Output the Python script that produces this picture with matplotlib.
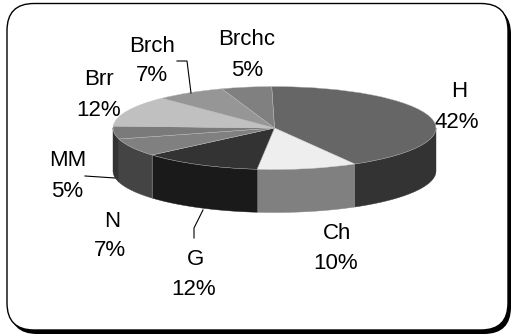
import numpy as np
import matplotlib
matplotlib.use('Agg')
import matplotlib.pyplot as plt
from matplotlib.patches import FancyBboxPatch, Polygon

labels = ['H', 'Ch', 'G', 'N', 'MM', 'Brr', 'Brch', 'Brchc']
values = [42, 10, 12, 7, 5, 12, 7, 5]
top_colors = ['#666666', '#eeeeee', '#333333', '#808080', '#7a7a7a', '#c0c0c0', '#969696', '#808080']
side_colors = ['#333333', '#808080', '#1a1a1a', '#444444', '#333333', '#c0c0c0', '#969696', '#808080']

W, H = 511, 335
plt.rcParams['font.family'] = ['Liberation Sans', 'DejaVu Sans']

fig = plt.figure(figsize=(W / 100, H / 100), dpi=100)

# pixel-coordinate layer for the frame
bg = fig.add_axes([0, 0, 1, 1], zorder=1)
bg.set_xlim(0, W)
bg.set_ylim(H, 0)
bg.axis('off')

bg.add_patch(FancyBboxPatch((10, 7), 501, 327, boxstyle='round,pad=0,rounding_size=27',
                            fc='black', ec='none'))
bg.add_patch(FancyBboxPatch((7, 3.5), 501, 326.5, boxstyle='round,pad=0,rounding_size=27',
                            fc='white', ec='black', lw=1.0))

# pie axes: the unit circle is squashed into an ellipse, so a wedge keeps its share
cx, cy, rx, ry, depth = 274.5, 128, 161.5, 41.5, 43
start = 91
pie_ax = fig.add_axes([(cx - rx) / W, (H - cy - ry) / H, 2 * rx / W, 2 * ry / H], zorder=2)
pie_ax.patch.set_alpha(0)

ends = np.cumsum(values) / np.sum(values) * 360 + 90 - start
starts = ends - np.array(values) / np.sum(values) * 360
drop = depth / ry

# visible wall of the disc, front half only
for a0, a1, col in zip(starts, ends, side_colors):
    a0, a1 = max(a0, 90), min(a1, 270)
    if a1 <= a0:
        continue
    t = np.radians(np.linspace(a0, a1, 40))
    xs, ys = np.sin(t), np.cos(t)
    pts = np.r_[np.c_[xs, ys], np.c_[xs, ys - drop][::-1]]
    pie_ax.add_patch(Polygon(pts, closed=True, fc=col, ec=col, lw=0.3, clip_on=False, zorder=1))

# thin light seam between the N and G walls
seam = np.radians(ends[2])
pie_ax.plot([np.sin(seam)] * 2, [np.cos(seam), np.cos(seam) - drop], color='#888888', lw=0.5,
            clip_on=False, zorder=1.5)

wedges, _ = pie_ax.pie(values, colors=top_colors, startangle=start, counterclock=False,
                       wedgeprops={'linewidth': 0.3, 'edgecolor': '#bbbbbb', 'clip_on': False, 'zorder': 2})
pie_ax.set_aspect('auto')
pie_ax.set_xlim(-1, 1)
pie_ax.set_ylim(-1, 1)
pie_ax.axis('off')

# text and leaders sit above the pie
fg = fig.add_axes([0, 0, 1, 1], zorder=3)
fg.set_xlim(0, W)
fg.set_ylim(H, 0)
fg.axis('off')

label_pos = [(459, 89, 457, 120), (337, 231, 336, 261), (195, 257, 194, 287),
             (112, 219, 110, 248), (68, 158, 67, 189), (99, 77, 99, 108),
             (152, 44, 152, 73), (247, 37, 247, 68)]
for name, val, (x1, y1, x2, y2) in zip(labels, values, label_pos):
    fg.text(x1, y1, name, ha='center', va='center_baseline', fontsize=16, color='black')
    fg.text(x2, y2, f'{val}%', ha='center', va='center_baseline', fontsize=16, color='black')

leaders = [([177, 187, 191], [61, 61, 93]),
           ([85, 115], [176, 178]),
           ([203, 194, 194], [210, 228, 238])]
for lx, ly in leaders:
    fg.plot(lx, ly, color='black', lw=0.8)

fig.savefig('out.png', dpi=100)
